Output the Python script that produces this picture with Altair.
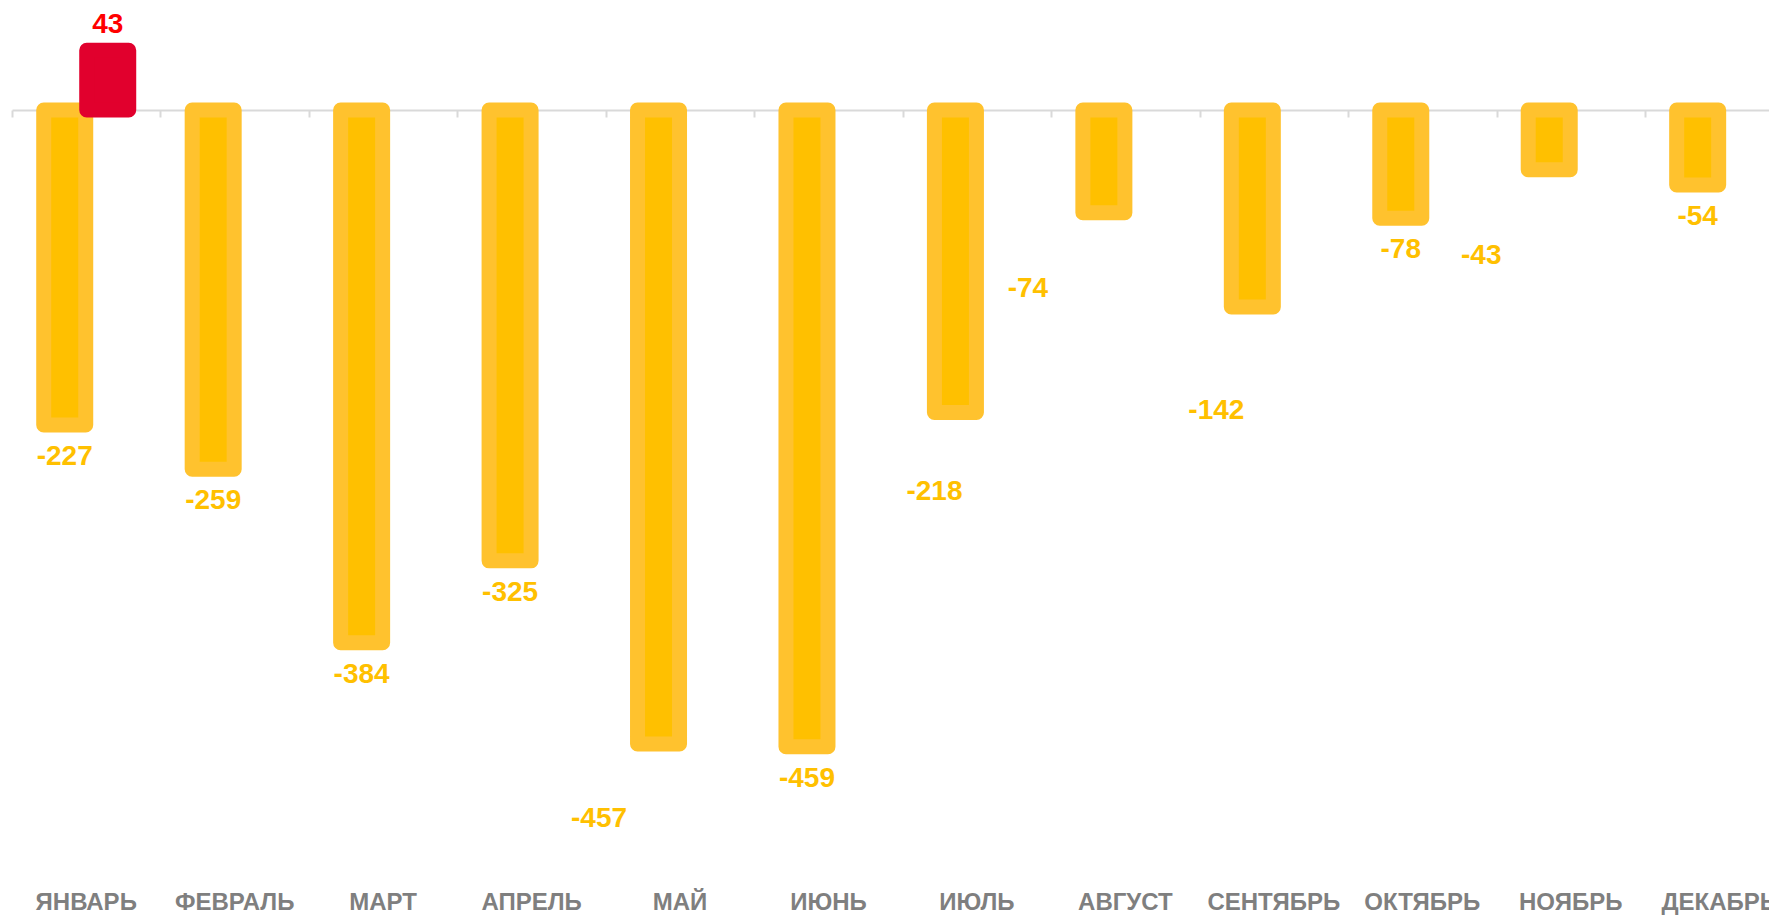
import altair as alt
import pandas as pd

# ---- data ----
months = ["ЯНВАРЬ", "ФЕВРАЛЬ", "МАРТ", "АПРЕЛЬ", "МАЙ", "ИЮНЬ",
          "ИЮЛЬ", "АВГУСТ", "СЕНТЯБРЬ", "ОКТЯБРЬ", "НОЯБРЬ", "ДЕКАБРЬ"]
neg_values = [-227, -259, -384, -325, -457, -459, -218, -74, -142, -78, -43, -54]
pos_values = [43, None, None, None, None, None, None, None, None, None, None, None]

# ---- label placement (style, pixels) ----
value_label_dx = [0, 0, 0, 0, -59.5, 0, -21, -76, -36, 0, -68, 0]
value_label_dy = [40, 40, 40, 40, 83.5, 40, 88, 84.5, 111.5, 40, 94.5, 40]

df = pd.DataFrame({
    "month": months,
    "neg": neg_values,
    "pos": pos_values,
    "neg_label": [str(v) for v in neg_values],
    "pos_label": [("" if v is None else str(v)) for v in pos_values],
})

W, H = 1757, 865
BAR_SHIFT = 21.5
FONT = "Liberation Sans"

xscale = alt.Scale(domain=months, range=[0, 1781.4], paddingInner=0, paddingOuter=0)
yscale = alt.Scale(domain=[-550, 73.54], nice=False, zero=False)
xaxis = alt.Axis(orient="bottom", offset=-763, labels=False, title=None,
                 domainColor="#D9D9D9", domainWidth=2, tickColor="#D9D9D9",
                 tickWidth=2, tickSize=7, tickBand="extent", grid=False)

x_enc = alt.X("month:N", sort=months, scale=xscale, axis=xaxis)

base = alt.Chart(df)

yellow = base.mark_bar(size=42, xOffset=-BAR_SHIFT, fill="#FFC000", stroke="#FFC22E",
                       strokeWidth=15, strokeJoin="round").encode(
    x=x_enc, y=alt.Y("neg:Q", scale=yscale, axis=None))

red = base.transform_filter("isValid(datum.pos)").mark_bar(
    size=42, xOffset=BAR_SHIFT, fill="#E1002D", stroke="#E1002D",
    strokeWidth=15, strokeJoin="round").encode(
    x=x_enc, y=alt.Y("pos:Q", scale=yscale, axis=None))

red_label = base.transform_filter("isValid(datum.pos)").mark_text(
    dx=BAR_SHIFT, dy=-17.4, baseline="alphabetic", align="center",
    font=FONT, fontSize=28, fontWeight="bold", color="#FF0000").encode(
    x=x_enc, y=alt.Y("pos:Q", scale=yscale, axis=None), text="pos_label:N")

month_labels = base.mark_text(
    baseline="alphabetic", align="center", font=FONT, fontSize=24,
    fontWeight="bold", color="#7F7F7F").encode(
    x=x_enc, y=alt.value(902), text="month:N")

layers = [yellow, red, red_label, month_labels]

for i, m in enumerate(months):
    layers.append(
        base.transform_filter(alt.datum.month == m).mark_text(
            dx=-BAR_SHIFT + value_label_dx[i], dy=value_label_dy[i],
            baseline="alphabetic", align="center", font=FONT, fontSize=28,
            fontWeight="bold", color="#FFC000").encode(
            x=x_enc, y=alt.Y("neg:Q", scale=yscale, axis=None), text="neg_label:N"))

chart = alt.layer(*layers).properties(
    width=W, height=H,
    autosize=alt.AutoSizeParams(type="none"),
    padding={"left": 4, "top": 0, "right": 0, "bottom": 43},
).configure_view(stroke=None)

chart.save("out.html", embed_options={"renderer": "svg", "actions": False})
